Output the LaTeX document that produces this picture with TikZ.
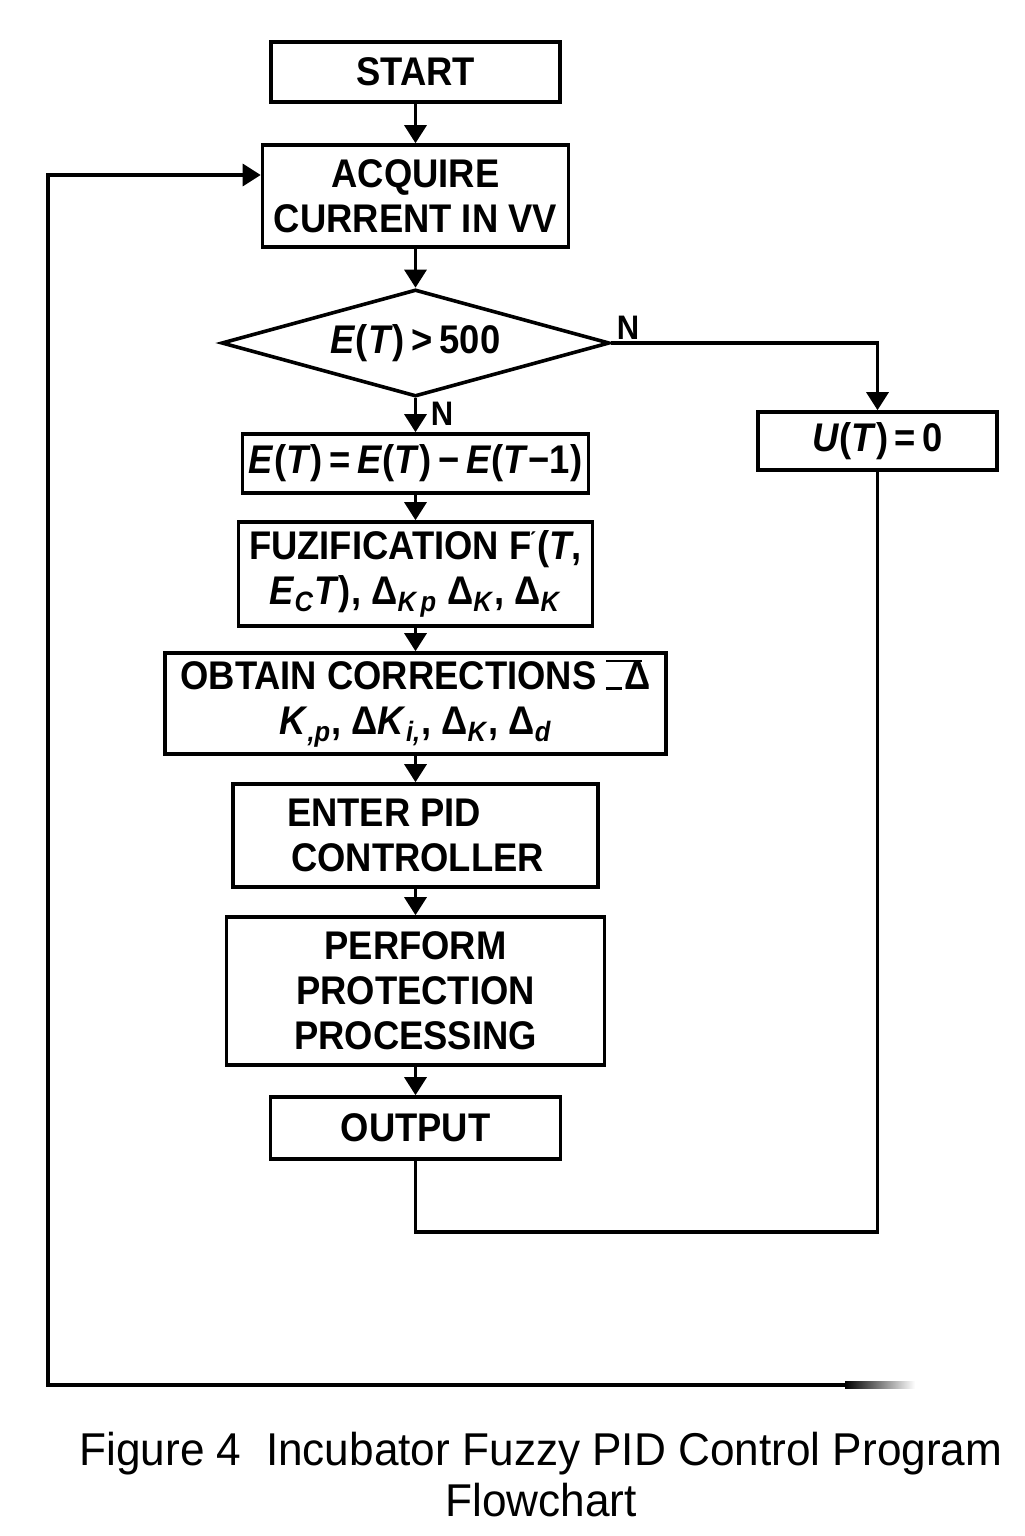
\documentclass[tikz,border=0pt]{standalone}
\usepackage{fontspec}
\setmainfont{Liberation Sans}[FakeStretch=0.91]
\newfontfamily\capfont{Liberation Sans}[FakeStretch=0.96]
\usetikzlibrary{arrows.meta,shapes.geometric}
\begin{document}
\begin{tikzpicture}[x=0.5pt,y=-0.5pt,
  txt/.style={font=\bfseries\fontsize{20}{22.5}\selectfont},
  box/.style={draw, line width=1.8pt, inner sep=2pt, align=center, txt},
  arr/.style={line width=1.6pt, -{Triangle[length=9pt,width=11pt]}},
  ln/.style={line width=1.6pt},
  lbl/.style={font=\bfseries\fontsize{17}{17}\selectfont, inner sep=0pt}]
\useasboundingbox[fill=white] (0,0) rectangle (1024,1536);

\node[box, minimum width=144.5pt, minimum height=30pt] (start) at (415.5,72) {START};
\node[box, minimum width=153pt, minimum height=51pt] (acq) at (415.5,196) {ACQUIRE\\CURRENT IN VV};
\node[diamond, draw, line width=1.8pt, minimum width=194pt, minimum height=53.5pt, inner sep=0pt] (dia) at (415.5,343) {};
\node[txt, inner sep=0pt] (diat) at (dia) {\textit{E}(\textit{T})\,>\,500};
\node[box, minimum width=173pt, minimum height=29.5pt] (diff) at (415.5,463.5) {\textit{E}(\textit{T})\,=\,\textit{E}(\textit{T})\,−\,\textit{E}(\textit{T}−1)};
\node[box, minimum width=177pt, minimum height=52pt] (fuz) at (415.5,574) {FUZIFICATION F\kern-1pt\raisebox{3pt}{\fontsize{12}{12}\selectfont\'{}}\kern1pt(\textit{T},\\ \textit{E}\textsubscript{\textit{C}}\textit{T}), Δ\textsubscript{\textit{K\,p}} Δ\textsubscript{\textit{K}}, Δ\textsubscript{\textit{K}}};
\node[box, minimum width=250.5pt, minimum height=50.5pt] (obt) at (415.5,703.5) {OBTAIN CORRECTIONS \rlap{\rule[14pt]{18pt}{1pt}}\rule{8pt}{1.5pt}\kern1pt Δ\\ \textit{K}\textsubscript{\textit{,p}}, Δ\textit{K}\textsubscript{\textit{i,}}, Δ\textsubscript{\textit{K}}, Δ\textsubscript{\textit{d}}};
\node[box, align=left, minimum width=182.5pt, minimum height=51.5pt] (pid) at (415.5,835.5) {ENTER PID\\\kern2pt CONTROLLER};
\node[box, minimum width=189pt, minimum height=74pt] (prot) at (415.5,991) {PERFORM\\PROTECTION\\PROCESSING};
\node[box, minimum width=145pt, minimum height=31pt] (out) at (415.5,1128) {OUTPUT};
\node[box, minimum width=119.5pt, minimum height=29pt] (u) at (877.5,441) {\textit{U}(\textit{T})\,=\,0};

\node[lbl] (nr) at (628,328) {N};
\node[lbl] (nd) at (442,414) {N};

\node[font=\capfont\fontsize{23}{25.5}\selectfont, align=center, inner sep=0pt] (cap) at (541,1475) {Figure 4\ \ Incubator Fuzzy PID Control Program\\Flowchart};

\draw[arr] (start) -- (acq);
\draw[arr] (acq) -- (dia);
\draw[arr] (dia) -- (diff);
\draw[arr] (diff) -- (fuz);
\draw[arr] (fuz) -- (obt);
\draw[arr] (obt) -- (pid);
\draw[arr] (pid) -- (prot);
\draw[arr] (prot) -- (out);
\draw[arr] (dia.east) -| (u.north);

\coordinate (mrg) at (415.5,1232);
\draw[ln] (u.south) |- (mrg) -- (out.south);

\coordinate (loopbl) at (48,1385);
\coordinate (fadeA) at (845,1385);
\coordinate (lend) at (915,1385);
\draw[arr] (fadeA) -- (loopbl) |- ([yshift=10.5pt]acq.west);
\shade[left color=black, right color=white] (fadeA) ++(0,-3.2) rectangle (lend |- 0,1388.2);
\end{tikzpicture}
\end{document}
